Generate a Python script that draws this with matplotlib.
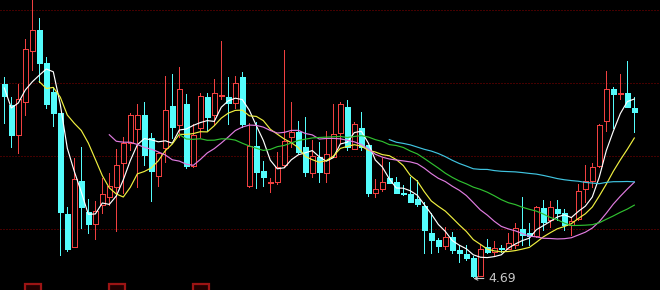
import numpy as np
import pandas as pd
import matplotlib
matplotlib.use("Agg")
import matplotlib.pyplot as plt
from matplotlib.patches import Rectangle

# closes of the 4 sessions before the first visible candle (only feed the MAs)
pre_close = [7.11, 6.22, 6.32, 6.75]

opens = [6.62, 6.41, 6.11, 6.44, 6.95, 7.16, 6.83, 6.54, 6.33, 5.32,
         4.99, 5.65, 5.34, 5.22, 5.41, 5.49, 5.59, 5.83, 6.03, 6.17,
         6.31, 6.08, 5.70, 5.98, 6.40, 6.21, 6.42, 5.80, 6.18, 6.49,
         6.31, 6.50, 6.49, 6.43, 6.69, 5.60, 6.00, 5.75, 5.63, 5.64,
         5.81, 6.09, 6.14, 5.99, 5.73, 5.89, 5.73, 5.89, 6.13, 6.39,
         5.97, 6.18, 6.01, 5.53, 5.57, 5.68, 5.64, 5.53, 5.52, 5.47,
         5.40, 5.13, 5.06, 5.00, 5.09, 4.96, 4.92, 4.88, 4.70, 4.99,
         4.94, 4.98, 4.97, 5.01, 5.17, 5.13, 5.10, 5.38, 5.26, 5.37,
         5.33, 5.21, 5.27, 5.57, 5.65, 5.80, 6.25, 6.57, 6.52, 6.53,
         6.38]
closes = [6.50, 6.11, 6.47, 6.97, 7.16, 6.83, 6.42, 6.33, 5.34, 4.97,
          5.67, 5.39, 5.22, 5.35, 5.52, 5.60, 5.81, 6.03, 6.31, 6.31,
          5.91, 5.75, 5.93, 6.36, 6.19, 6.57, 5.80, 6.11, 6.50, 6.29,
          6.53, 6.51, 6.43, 6.63, 6.22, 6.00, 5.74, 5.69, 5.64, 5.79,
          6.05, 6.14, 5.94, 5.74, 5.90, 5.74, 5.92, 6.12, 6.42, 5.99,
          6.22, 5.99, 5.53, 5.57, 5.64, 5.63, 5.53, 5.52, 5.44, 5.42,
          5.16, 5.06, 5.00, 5.09, 4.96, 4.93, 4.88, 4.70, 4.97, 4.94,
          4.98, 4.97, 5.03, 5.18, 5.11, 5.10, 5.39, 5.24, 5.39, 5.33,
          5.21, 5.25, 5.55, 5.65, 5.79, 6.21, 6.57, 6.52, 6.53, 6.39,
          6.34]
highs = [6.69, 6.49, 6.62, 7.07, 7.47, 7.28, 6.89, 6.59, 6.33, 5.39,
         5.88, 5.99, 5.47, 5.45, 5.68, 5.73, 5.97, 6.09, 6.33, 6.42,
         6.44, 6.13, 5.94, 6.70, 6.72, 6.79, 6.52, 6.22, 6.53, 6.53,
         6.67, 7.05, 6.69, 6.70, 6.74, 6.23, 6.24, 5.85, 5.68, 5.94,
         6.96, 6.44, 6.25, 6.29, 6.06, 6.04, 6.15, 6.42, 6.44, 6.46,
         6.24, 6.34, 6.01, 5.67, 5.88, 5.84, 5.69, 5.61, 5.69, 5.66,
         5.44, 5.33, 5.08, 5.19, 5.14, 5.01, 5.01, 4.90, 5.02, 5.07,
         5.05, 5.01, 5.13, 5.23, 5.49, 5.23, 5.40, 5.46, 5.45, 5.46,
         5.37, 5.28, 5.62, 5.81, 5.83, 6.22, 6.75, 6.59, 6.72, 6.85,
         6.49]
lows = [6.23, 5.99, 5.93, 6.31, 6.76, 6.64, 6.38, 6.20, 4.91, 4.95,
        4.99, 5.18, 5.13, 5.07, 5.33, 5.41, 5.15, 5.53, 5.96, 5.59,
        5.81, 5.45, 5.60, 5.84, 6.08, 6.09, 5.78, 5.79, 6.09, 6.16,
        6.21, 6.47, 6.22, 6.38, 6.19, 5.59, 5.58, 5.60, 5.54, 5.62,
        5.79, 5.99, 5.93, 5.70, 5.69, 5.64, 5.64, 5.89, 6.03, 5.96,
        5.97, 5.96, 5.50, 5.49, 5.55, 5.63, 5.53, 5.51, 5.44, 5.40,
        4.93, 4.93, 4.94, 4.97, 4.93, 4.84, 4.86, 4.69, 4.70, 4.93,
        4.91, 4.94, 4.97, 4.98, 5.01, 5.01, 5.09, 5.16, 5.19, 5.26,
        5.16, 5.11, 5.26, 5.44, 5.59, 5.79, 6.15, 6.18, 6.47, 6.39,
        6.14]

ma_windows = [5, 10, 20, 30, 60]
ma_colors = ['#ffffff', '#f0f040', '#e07ce0', '#30c030', '#40c4e0']
grid_prices = [7.36, 6.63, 5.90, 5.17]
marker_idx = [4, 16, 28]
low_label = "4.69"
low_idx = 67

UP = '#f04040'
DOWN = '#54fcfc'
PX = 0.72  # one pixel line width at dpi 100

n = len(closes)
idx = np.arange(n)
all_close = pd.Series(pre_close + closes)
n_pre = len(pre_close)

fig = plt.figure(figsize=(6.6, 2.9), dpi=100, facecolor='black')
ax = fig.add_axes([0, 0, 1, 1])
ax.set_facecolor('black')
ax.set_xlim(-0.614, 93.67)
ax.set_ylim(4.56, 7.46)
ax.axis('off')

for gp in grid_prices:
    ax.axhline(gp, color='#8a0000', lw=PX, ls=(0, (1, 2)), zorder=0)

w = 0.34
for i in idx:
    o, c, h, l = opens[i], closes[i], highs[i], lows[i]
    top, bot = max(o, c), min(o, c)
    if c > o:
        ax.vlines(i, top, h, color=UP, lw=PX, antialiased=False, zorder=2)
        ax.vlines(i, l, bot, color=UP, lw=PX, antialiased=False, zorder=2)
        ax.add_patch(Rectangle((i - w, bot), 2 * w, top - bot, facecolor='black',
                               edgecolor=UP, lw=PX, antialiased=False, zorder=3))
    else:
        ax.vlines(i, l, h, color=DOWN, lw=PX, antialiased=False, zorder=2)
        hgt = max(top - bot, 0.012)
        ax.add_patch(Rectangle((i - w, bot), 2 * w, hgt, facecolor=DOWN,
                               edgecolor=DOWN, lw=PX, antialiased=False, zorder=3))

for win, col in zip(ma_windows, ma_colors):
    ma = all_close.rolling(win).mean().values[n_pre:]
    ok = ~np.isnan(ma)
    ax.plot(idx[ok], ma[ok], color=col, lw=0.85, zorder=4)

for m in marker_idx:
    ax.add_patch(Rectangle((m - 1.0, 4.50), 2.2, 0.12, facecolor='#200000',
                           edgecolor='#9c1414', lw=1.6, zorder=5))

ax.annotate(low_label, xy=(low_idx, lows[low_idx] - 0.015), xytext=(low_idx + 2.1, lows[low_idx] - 0.015),
            color='#c8c8c8', fontsize=9, ha='left', va='center',
            arrowprops=dict(arrowstyle='->', color='#c8c8c8', lw=0.8,
                            shrinkA=1, shrinkB=0, mutation_scale=6))

fig.savefig('out.png', dpi=100, facecolor='black')
